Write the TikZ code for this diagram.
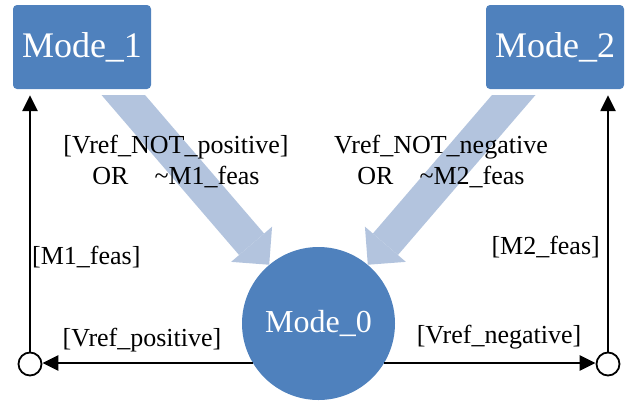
\documentclass[tikz,border=0pt]{standalone}
\usepackage{fontspec}
\setmainfont{Liberation Serif}
\usetikzlibrary{arrows.meta}
\definecolor{modeblue}{RGB}{79,129,189}
\definecolor{bandblue}{RGB}{179,196,222}

\begin{document}
\begin{tikzpicture}[x=1pt,y=-1pt,
  modebox/.style={rectangle, rounded corners=4pt, fill=modeblue, text=white,
    minimum width=138pt, minimum height=84pt, font=\fontsize{36}{40}\selectfont},
  modecirc/.style={circle, fill=modeblue, text=white, minimum size=153pt,
    inner sep=0pt, font=\fontsize{32}{36}\selectfont},
  junc/.style={circle, draw, line width=1.8pt, minimum size=23pt, inner sep=0pt},
  trans/.style={line width=2.5pt, -{Triangle[length=16pt,width=15pt]}},
  band/.style={draw=bandblue, line width=33pt,
    -{Triangle[length=27pt,width=54pt,line width=0pt]}},
  lbl/.style={font=\fontsize{26}{31}\selectfont, align=center}]
\useasboundingbox (0,0) rectangle (629,402);
% states
\node[modebox] (m1) at (82,47) {Mode\_1};
\node[modebox] (m2) at (555,47) {Mode\_2};
\node[modecirc] (m0) at (318.5,323.5) {Mode\_0};
\node[junc] (j1) at (30,364) {};
\node[junc] (j2) at (608,364) {};
% wide arrows back to Mode_0
\begin{scope}
\clip (0,95) rectangle (629,402);
\draw[band] (m1.center) -- (m0.130);
\draw[band] (m2.center) -- (m0.50);
\end{scope}
% transitions
\draw[trans] (m0.211) -- (m0.211 -| j1.east);
\draw[trans] (m0.329) -- (m0.329 -| j2.west);
\draw[trans, shorten >=6pt] (j1.north) -- (j1.north |- m1.south);
\draw[trans, shorten >=6pt] (j2.north) -- (j2.north |- m2.south);
% labels
\node[lbl] (c1) at (176,162) {[Vref\_NOT\_positive]\\OR\quad\textasciitilde M1\_feas};
\node[lbl] (c2) at (441,162) {Vref\_NOT\_negative\\OR\quad\textasciitilde M2\_feas};
\node[lbl, anchor=west, inner sep=0pt] (f1) at (32,257) {[M1\_feas]};
\node[lbl, anchor=east, inner sep=0pt] (f2) at (600,247) {[M2\_feas]};
\node[lbl] (p1) at (142,340) {[Vref\_positive]};
\node[lbl] (n1) at (499,337) {[Vref\_negative]};
\end{tikzpicture}
\end{document}
